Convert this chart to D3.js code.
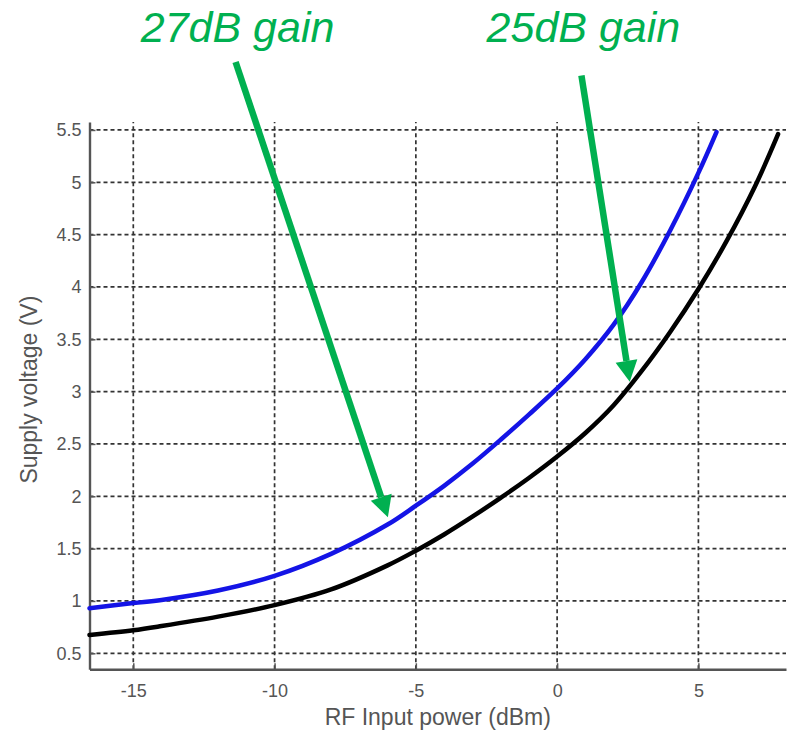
<!DOCTYPE html>
<html>
<head>
<meta charset="utf-8">
<script src="https://cdn.jsdelivr.net/npm/d3@7"></script>
<style>
  html, body { margin: 0; padding: 0; background: #fff; }
  svg { display: block; }
</style>
</head>
<body>
<script>
// ---- data ----
const xTicks = [-15, -10, -5, 0, 5];
const xTickLabels = ["-15", "-10", "-5", "0", "5"];
const yTicks = [0.5, 1, 1.5, 2, 2.5, 3, 3.5, 4, 4.5, 5, 5.5];
const yTickLabels = ["0.5", "1", "1.5", "2", "2.5", "3", "3.5", "4", "4.5", "5", "5.5"];

// 27 dB gain (blue)
const blueX = [-16.55, -15, -14, -12, -10, -8, -6, -5, -4, -3, -2, -1, 0, 1, 2, 3, 4, 5, 5.64];
const blueV = [0.93, 0.98, 1.01, 1.10, 1.24, 1.45, 1.73, 1.91, 2.10, 2.31, 2.54, 2.78, 3.03, 3.31, 3.64, 4.05, 4.54, 5.09, 5.48];
// 25 dB gain (black)
const blackX = [-16.55, -15, -14, -12, -10, -8, -6, -5, -4, -3, -2, -1, 0, 1, 2, 3, 4, 5, 6, 7, 7.82];
const blackV = [0.675, 0.72, 0.76, 0.85, 0.96, 1.11, 1.34, 1.48, 1.635, 1.805, 1.985, 2.175, 2.38, 2.605, 2.87, 3.2, 3.57, 3.98, 4.44, 4.96, 5.46];

const annotations = [
  { label: "27dB gain", fromX: -11.38, fromV: 6.15, toX: -5.99, toV: 1.80 },
  { label: "25dB gain", fromX: 0.86, fromV: 6.02, toX: 2.57, toV: 3.095 }
];

const xDomain = [-16.55, 8.1];
const yDomain = [0.347, 5.576];

// ---- layout ----
const W = 796, H = 734;
const margin = { left: 89.5, right: 10, top: 122, bottom: 64.7 };

const svg = d3.select("body").append("svg").attr("width", W).attr("height", H);

const x = d3.scaleLinear().domain(xDomain).range([margin.left, W - margin.right]);
const y = d3.scaleLinear().domain(yDomain).range([H - margin.bottom, margin.top]);

const gridColor = "#333";
const axisColor = "#555";
const textColor = "#555";

// grid
const grid = svg.append("g");
grid.selectAll("line.h").data(yTicks).join("line")
  .attr("x1", x.range()[0]).attr("x2", x.range()[1])
  .attr("y1", d => y(d)).attr("y2", d => y(d))
  .attr("stroke", gridColor).attr("stroke-width", 1.7).attr("stroke-dasharray", "4,3");
grid.selectAll("line.v").data(xTicks).join("line")
  .attr("y1", y.range()[0]).attr("y2", y.range()[1])
  .attr("x1", d => x(d)).attr("x2", d => x(d))
  .attr("stroke", gridColor).attr("stroke-width", 1.7).attr("stroke-dasharray", "4,3");

// axes
const xAxis = d3.axisBottom(x).tickValues(xTicks).tickSizeInner(-6).tickSizeOuter(0)
  .tickPadding(15).tickFormat((d, i) => xTickLabels[i]);
const gx = svg.append("g").attr("transform", `translate(0,${y.range()[0]})`).call(xAxis);
const yAxis = d3.axisLeft(y).tickValues(yTicks).tickSizeInner(-6).tickSizeOuter(0)
  .tickPadding(8).tickFormat((d, i) => yTickLabels[i]);
const gy = svg.append("g").attr("transform", `translate(${x.range()[0]},0)`).call(yAxis);

[gx, gy].forEach(g => {
  g.select(".domain").attr("stroke", axisColor).attr("stroke-width", 2.4);
  g.selectAll(".tick line").attr("stroke", axisColor).attr("stroke-width", 1.5);
  g.selectAll(".tick text").attr("fill", textColor)
    .style("font-family", "'Liberation Sans', Arial, sans-serif").style("font-size", "18px");
});

// axis labels
svg.append("text")
  .attr("x", (x.range()[0] + x.range()[1]) / 2).attr("y", 725)
  .attr("text-anchor", "middle").attr("fill", textColor)
  .style("font-family", "'Liberation Sans', Arial, sans-serif").style("font-size", "23px")
  .text("RF Input power (dBm)");
svg.append("text")
  .attr("transform", `translate(37,${(y.range()[0] + y.range()[1]) / 2 - 6}) rotate(-90)`)
  .attr("text-anchor", "middle").attr("fill", textColor)
  .style("font-family", "'Liberation Sans', Arial, sans-serif").style("font-size", "23px")
  .text("Supply voltage (V)");

// curves
const line = d3.line().x(d => x(d[0])).y(d => y(d[1])).curve(d3.curveCatmullRom.alpha(0.5));
const blue = blueX.map((v, i) => [v, blueV[i]]);
const black = blackX.map((v, i) => [v, blackV[i]]);
svg.append("path").datum(black).attr("d", line)
  .attr("fill", "none").attr("stroke", "#000").attr("stroke-width", 4.5).attr("stroke-linecap", "round");
svg.append("path").datum(blue).attr("d", line)
  .attr("fill", "none").attr("stroke", "#1414e6").attr("stroke-width", 4.5).attr("stroke-linecap", "round");

// annotations
const green = "#00b050";
annotations.forEach(a => {
  const x1 = x(a.fromX), y1 = y(a.fromV), x2 = x(a.toX), y2 = y(a.toV);
  const ang = Math.atan2(y2 - y1, x2 - x1);
  const headLen = 21, headW = 11, shaftW = 6.5;
  const bx = x2 - headLen * Math.cos(ang), by = y2 - headLen * Math.sin(ang);
  const px = -Math.sin(ang), py = Math.cos(ang);
  svg.append("line").attr("x1", x1).attr("y1", y1).attr("x2", bx).attr("y2", by)
    .attr("stroke", green).attr("stroke-width", shaftW);
  svg.append("polygon")
    .attr("points", [[x2, y2], [bx + px * headW, by + py * headW], [bx - px * headW, by - py * headW]].map(p => p.join(",")).join(" "))
    .attr("fill", green);
  svg.append("text")
    .attr("x", x1 + 2).attr("y", 42)
    .attr("text-anchor", "middle").attr("fill", green)
    .style("font-family", "'Liberation Sans', Arial, sans-serif").style("font-size", "43px").style("font-style", "italic")
    .text(a.label);
});
</script>
</body>
</html>
